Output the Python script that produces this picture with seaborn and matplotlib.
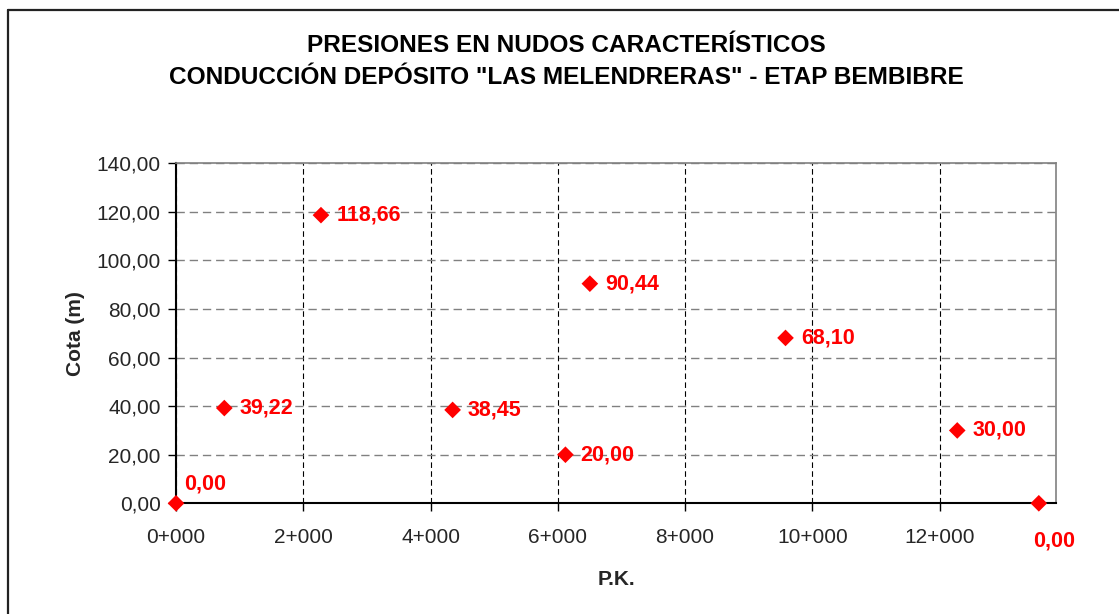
import matplotlib
matplotlib.use("Agg")
import matplotlib.pyplot as plt
from matplotlib.lines import Line2D
from matplotlib.ticker import FuncFormatter, MultipleLocator
import pandas as pd
import seaborn as sns

# datos
pk = [0, 759, 2278, 4347, 6120, 6504, 9579, 12278, 13560]
presion = [0.00, 39.22, 118.66, 38.45, 20.00, 90.44, 68.10, 30.00, 0.00]
# desplazamiento de cada etiqueta (puntos)
label_dx = [6, 11, 11, 11, 11, 11, 11, 11, -4]
label_dy = [14, 0, 0, 0, 0, 0, 0, 0, -27]

df = pd.DataFrame({"pk": pk, "presion": presion})

sns.set_style("white")
plt.rcParams["font.family"] = ["Liberation Sans", "DejaVu Sans"]

fig = plt.figure(figsize=(11.19, 6.14), dpi=100)
ax = fig.add_axes([0.1573, 0.1803, 0.7864, 0.5537])

sns.scatterplot(data=df, x="pk", y="presion", marker="D", s=72, color="#ff0000",
                edgecolor="none", linewidth=0, clip_on=False, zorder=5, ax=ax)

for x, y, dx, dy in zip(pk, presion, label_dx, label_dy):
    ax.annotate(f"{y:.2f}".replace(".", ","), (x, y), xytext=(dx, dy),
                textcoords="offset points", ha="left", va="center",
                color="#ff0000", fontsize=15.5, fontweight="bold",
                annotation_clip=False, zorder=6)

ax.set_xlim(0, 13830)
ax.set_ylim(0, 140)
ax.xaxis.set_major_locator(MultipleLocator(2000))
ax.yaxis.set_major_locator(MultipleLocator(20))
ax.xaxis.set_major_formatter(FuncFormatter(lambda v, p: f"{int(v // 1000)}+{int(v % 1000):03d}"))
ax.yaxis.set_major_formatter(FuncFormatter(lambda v, p: f"{v:.2f}".replace(".", ",")))
ax.tick_params(axis="both", direction="out", length=6, width=1, color="black",
               labelsize=15, pad=5, bottom=True, left=True)
ax.tick_params(axis="x", pad=12)

# rejilla
ax.xaxis.grid(True, color="black", linestyle=(0, (5, 3)), linewidth=0.8)
ax.yaxis.grid(True, color="#808080", linestyle=(0, (6, 3.5)), linewidth=1.0)
ax.set_axisbelow(True)

for side in ["left", "bottom"]:
    ax.spines[side].set_color("black")
    ax.spines[side].set_linewidth(1.5)
for side in ["top", "right"]:
    ax.spines[side].set_color("#808080")
    ax.spines[side].set_linewidth(1.2)

ax.set_xlabel("P.K.", fontsize=15, fontweight="bold", labelpad=16)
ax.set_ylabel("Cota (m)", fontsize=15, fontweight="bold", labelpad=8.5)

fig.text(566 / 1119, 1 - 45 / 614, "PRESIONES EN NUDOS CARACTERÍSTICOS",
         ha="center", va="center", fontsize=17.6, fontweight="bold", color="black")
fig.text(566 / 1119, 1 - 77 / 614, 'CONDUCCIÓN DEPÓSITO "LAS MELENDRERAS" - ETAP BEMBIBRE',
         ha="center", va="center", fontsize=17.6, fontweight="bold", color="black")

# marco exterior del gráfico
fig.add_artist(Line2D([8 / 1119, 1], [1 - 10 / 614, 1 - 10 / 614], transform=fig.transFigure,
                      color="#222222", linewidth=1.6))
fig.add_artist(Line2D([8 / 1119, 8 / 1119], [0, 1 - 10 / 614], transform=fig.transFigure,
                      color="#222222", linewidth=1.6))

fig.savefig("out.png", dpi=100, facecolor="white")
